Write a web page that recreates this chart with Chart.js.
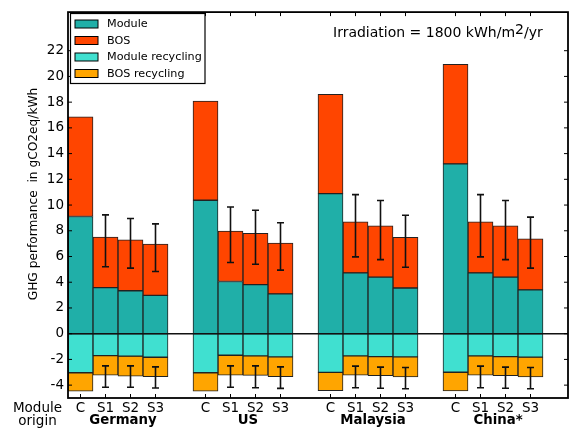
<!DOCTYPE html>
<html>
<head>
<meta charset="utf-8">
<script src="https://cdn.jsdelivr.net/npm/chart.js@4"></script>
<style>
html,body{margin:0;padding:0;background:#fff;}
#wrap{width:571px;height:430px;position:relative;}
</style>
</head>
<body>
<div id="wrap"><canvas id="c" width="571" height="430"></canvas></div>
<script>
// ---- data ----
const slotLabels = ['C','S1','S2','S3','', 'C','S1','S2','S3','', 'C','S1','S2','S3','', 'C','S1','S2','S3',''];
const groupNames = ['Germany','US','Malaysia','China*'];
const moduleVals = [9.11,3.58,3.34,2.98,null, 10.37,4.06,3.81,3.09,null, 10.89,4.73,4.40,3.55,null, 13.20,4.73,4.40,3.40,null];
const bosVals    = [7.75,3.93,3.96,3.99,null, 7.72,3.92,3.99,3.96,null, 7.71,3.97,3.99,3.94,null, 7.73,3.97,3.99,3.98,null];
const modRecVals = [-3.04,-1.70,-1.75,-1.83,null, -3.04,-1.68,-1.72,-1.80,null, -3.01,-1.73,-1.78,-1.80,null, -3.00,-1.73,-1.78,-1.82,null];
const bosRecVals = [-1.42,-1.52,-1.55,-1.52,null, -1.42,-1.54,-1.52,-1.55,null, -1.42,-1.49,-1.49,-1.57,null, -1.45,-1.49,-1.49,-1.55,null];
const posErrHigh = [null,9.24,8.96,8.54,null, null,9.85,9.60,8.62,null, null,10.81,10.35,9.21,null, null,10.81,10.35,9.06,null];
const posErrLow  = [null,5.20,5.10,4.83,null, null,5.53,5.40,4.94,null, null,5.97,5.76,5.17,null, null,5.97,5.76,5.10,null];
const negErrHigh = [null,-2.50,-2.50,-2.58,null, null,-2.50,-2.50,-2.58,null, null,-2.52,-2.60,-2.63,null, null,-2.52,-2.60,-2.63,null];
const negErrLow  = [null,-4.17,-4.17,-4.22,null, null,-4.17,-4.20,-4.25,null, null,-4.20,-4.24,-4.28,null, null,-4.20,-4.24,-4.28,null];
const yTickVals = [-4,-2,0,2,4,6,8,10,12,14,16,18,20,22];
const seriesNames = ['Module','BOS','Module recycling','BOS recycling'];
const seriesColors = ['#20AFA8','#FF4500','#40E0D0','#FFA500'];

const FONT = "'DejaVu Sans', sans-serif";
const TXT = '#000';

const decor = {
  id: 'decor',
  afterDatasetsDraw(chart) {
    const ctx = chart.ctx, a = chart.chartArea;
    const xs = chart.scales.x, ys = chart.scales.y;
    ctx.save();
    const y0 = ys.getPixelForValue(0);
    ctx.strokeStyle = '#111'; ctx.lineWidth = 1.5;
    ctx.beginPath(); ctx.moveTo(a.left, y0); ctx.lineTo(a.right, y0); ctx.stroke();
    ctx.lineWidth = 1.6; ctx.strokeStyle = '#111';
    const cap = 3.5;
    const drawErr = (i, hi, lo) => {
      if (hi == null || lo == null) return;
      const x = xs.getPixelForValue(i);
      const yh = ys.getPixelForValue(hi), yl = ys.getPixelForValue(lo);
      ctx.beginPath();
      ctx.moveTo(x, yh); ctx.lineTo(x, yl);
      ctx.moveTo(x - cap, yh); ctx.lineTo(x + cap, yh);
      ctx.moveTo(x - cap, yl); ctx.lineTo(x + cap, yl);
      ctx.stroke();
    };
    for (let i = 0; i < slotLabels.length; i++) {
      drawErr(i, posErrHigh[i], posErrLow[i]);
      drawErr(i, negErrHigh[i], negErrLow[i]);
    }
    ctx.restore();
  },
  afterDraw(chart) {
    const ctx = chart.ctx, a = chart.chartArea;
    const xs = chart.scales.x, ys = chart.scales.y;
    ctx.save();
    ctx.strokeStyle = '#000'; ctx.lineWidth = 1.8;
    ctx.strokeRect(a.left, a.top, a.right - a.left, a.bottom - a.top);
    ctx.lineWidth = 1;
    const tl = 4;
    ctx.beginPath();
    yTickVals.forEach(v => {
      const y = ys.getPixelForValue(v);
      ctx.moveTo(a.left, y); ctx.lineTo(a.left + tl, y);
      ctx.moveTo(a.right, y); ctx.lineTo(a.right - tl, y);
    });
    slotLabels.forEach((l, i) => {
      if (!l) return;
      const x = xs.getPixelForValue(i);
      ctx.moveTo(x, a.top); ctx.lineTo(x, a.top + tl);
      ctx.moveTo(x, a.bottom); ctx.lineTo(x, a.bottom - tl);
    });
    ctx.stroke();

    // legend
    const lx = 70.5, ly = 13.5, lw = 134.5, lh = 70;
    ctx.fillStyle = '#fff';
    ctx.fillRect(lx, ly, lw, lh);
    ctx.strokeStyle = '#000'; ctx.lineWidth = 1.2;
    ctx.strokeRect(lx, ly, lw, lh);
    ctx.font = "11.2px " + FONT;
    ctx.textBaseline = 'middle'; ctx.textAlign = 'left';
    chart.data.datasets.forEach((ds, k) => {
      const ry = 24 + k * 16.5;
      ctx.fillStyle = ds.backgroundColor;
      ctx.fillRect(75, ry - 4, 23, 8);
      ctx.strokeStyle = '#000'; ctx.lineWidth = 1;
      ctx.strokeRect(75, ry - 4, 23, 8);
      ctx.fillStyle = TXT;
      ctx.fillText(ds.label, 107, ry + 0.5);
    });

    // annotation
    ctx.fillStyle = TXT;
    ctx.font = "14px " + FONT;
    ctx.textBaseline = 'alphabetic';
    const t1 = 'Irradiation = 1800 kWh/m';
    let x = 333;
    ctx.fillText(t1, x, 37);
    x += ctx.measureText(t1).width;
    ctx.fillText('2', x, 33.5);
    x += ctx.measureText('2').width;
    ctx.fillText('/yr', x, 37);

    // group labels
    ctx.font = "bold 13.3px " + FONT;
    ctx.textAlign = 'center';
    groupNames.forEach((g, k) => {
      const idx = k * 5 + 2;
      const gx = (xs.getPixelForValue(idx) + xs.getPixelForValue(idx - 1)) / 2 + 5;
      ctx.fillText(g, gx, 423.5);
    });
    ctx.font = "13.5px " + FONT;
    ctx.fillText('Module', 37.5, 411.5);
    ctx.fillText('origin', 37.5, 425);

    // y title
    ctx.save();
    ctx.translate(36.5, 194);
    ctx.rotate(-Math.PI / 2);
    ctx.font = "12.2px " + FONT;
    ctx.textAlign = 'center';
    ctx.textBaseline = 'alphabetic';
    ctx.fillText('GHG performance  in gCO2eq/kWh', 0, 0);
    ctx.restore();

    ctx.restore();
  }
};

const mk = (label, data, color) => ({
  label, data, backgroundColor: color, borderColor: '#222', borderWidth: 1,
  borderSkipped: false, barPercentage: 1, categoryPercentage: 1
});

new Chart(document.getElementById('c'), {
  type: 'bar',
  data: {
    labels: slotLabels,
    datasets: [
      mk(seriesNames[0], moduleVals, seriesColors[0]),
      mk(seriesNames[1], bosVals, seriesColors[1]),
      mk(seriesNames[2], modRecVals, seriesColors[2]),
      mk(seriesNames[3], bosRecVals, seriesColors[3])
    ]
  },
  options: {
    responsive: false,
    animation: false,
    events: [],
    layout: { padding: { top: 9.5, right: 3, left: 0, bottom: 0 } },
    plugins: { legend: { display: false }, tooltip: { enabled: false } },
    scales: {
      x: {
        stacked: true,
        grid: { display: false, drawTicks: false },
        border: { display: false },
        ticks: { autoSkip: false, maxRotation: 0, minRotation: 0, padding: 2,
                  color: TXT, font: { family: FONT, size: 13.5 } },
        afterFit(s) { s.height = 32; }
      },
      y: {
        stacked: true,
        min: -5, max: 25,
        grid: { display: false, drawTicks: false },
        border: { display: false },
        ticks: { padding: 4, color: TXT, font: { family: FONT, size: 13.5 } },
        afterBuildTicks(s) { s.ticks = yTickVals.map(v => ({ value: v })); },
        afterFit(s) { s.width = 68; }
      }
    }
  },
  plugins: [decor]
});
</script>
</body>
</html>
